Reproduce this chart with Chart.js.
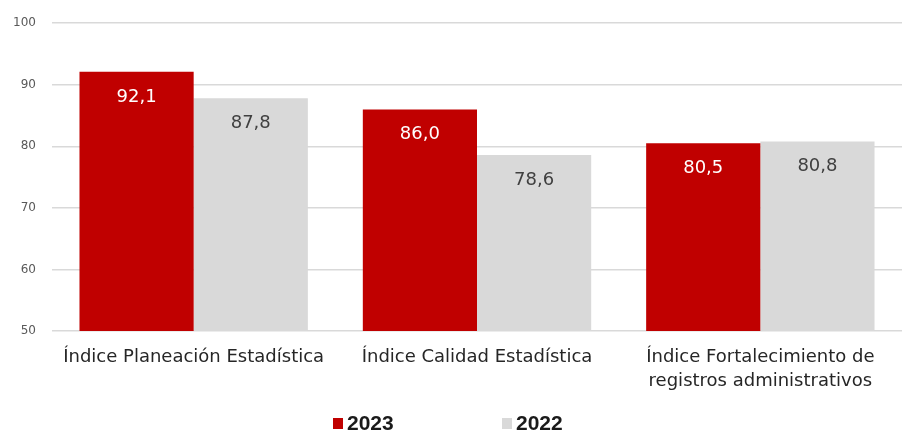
<!DOCTYPE html>
<html>
<head>
<meta charset="utf-8">
<script src="https://cdn.jsdelivr.net/npm/chart.js@4/dist/chart.umd.min.js"></script>
<style>
  html, body { margin: 0; padding: 0; background: #fff; }
  #wrap { width: 902px; height: 431px; position: relative; }
</style>
</head>
<body>
<div id="wrap"><canvas id="chart"></canvas></div>
<script>
// ── Data ─────────────────────────────────────────────
const categories = [
  'Índice Planeación Estadística',
  'Índice Calidad Estadística',
  ['Índice Fortalecimiento de', 'registros administrativos']
];
const values2023 = [92.1, 86.0, 80.5];
const values2022 = [87.8, 78.6, 80.8];
const yTicks = [50, 60, 70, 80, 90, 100];

const RED  = '#C00000';
const GREY = '#D9D9D9';
const labelFont = '"DejaVu Sans", sans-serif';

// ── Value labels inside bars ─────────────────────────
const valueLabels = {
  id: 'valueLabels',
  afterDatasetsDraw(chart) {
    const ctx = chart.ctx;
    ctx.save();
    ctx.font = '18px ' + labelFont;
    ctx.textAlign = 'center';
    ctx.textBaseline = 'middle';
    chart.data.datasets.forEach((ds, di) => {
      chart.getDatasetMeta(di).data.forEach((bar, i) => {
        ctx.fillStyle = ds.labelColor;
        ctx.fillText(ds.data[i].toFixed(1).replace('.', ','), bar.x, bar.y + 25);
      });
    });
    ctx.restore();
  }
};

// ── Legend drawn at the bottom ───────────────────────
const bottomLegend = {
  id: 'bottomLegend',
  afterDraw(chart) {
    const ctx = chart.ctx;
    const starts = [333, 502];
    ctx.save();
    ctx.font = 'bold 21px "Liberation Sans", Arial, sans-serif';
    ctx.textBaseline = 'middle';
    chart.data.datasets.forEach((ds, i) => {
      const x = starts[i], y = 423;
      ctx.fillStyle = ds.backgroundColor;
      ctx.fillRect(x, y - 5, 10, 11);
      ctx.fillStyle = '#1a1a1a';
      ctx.fillText(ds.label, x + 14, y + 1);
    });
    ctx.restore();
  }
};

new Chart(document.getElementById('chart'), {
  type: 'bar',
  data: {
    labels: categories,
    datasets: [
      { label: '2023', data: values2023, backgroundColor: RED, labelColor: '#ffffff',
        categoryPercentage: 0.806, barPercentage: 1 },
      { label: '2022', data: values2022, backgroundColor: GREY, labelColor: '#404040',
        categoryPercentage: 0.806, barPercentage: 1 }
    ]
  },
  options: {
    responsive: true,
    maintainAspectRatio: false,
    animation: false,
    layout: { padding: { top: 22, right: 0, bottom: 32, left: 0 } },
    plugins: {
      legend: { display: false },
      tooltip: { enabled: false }
    },
    scales: {
      x: {
        grid: { display: false },
        border: { display: false },
        ticks: {
          color: '#262626',
          font: { family: labelFont, size: 18, lineHeight: 1.333 },
          padding: 6,
          maxRotation: 0
        }
      },
      y: {
        min: 50,
        max: 100,
        afterFit(scale) { scale.width = 52; },
        afterBuildTicks(scale) { scale.ticks = yTicks.map(v => ({ value: v })); },
        grid: { color: '#D9D9D9', lineWidth: 1.5, drawTicks: false },
        border: { display: false },
        ticks: {
          color: '#595959',
          font: { family: labelFont, size: 12 },
          padding: 16
        }
      }
    }
  },
  plugins: [valueLabels, bottomLegend]
});
</script>
</body>
</html>
